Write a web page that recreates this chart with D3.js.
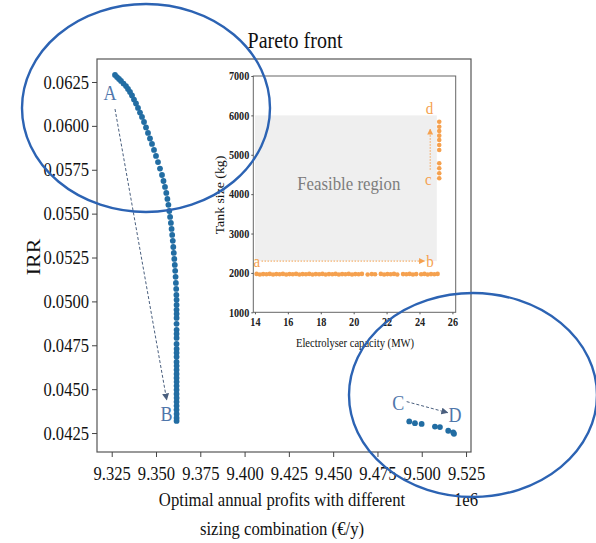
<!DOCTYPE html>
<html>
<head>
<meta charset="utf-8">
<script src="https://cdn.jsdelivr.net/npm/d3@7"></script>
<style>
  html, body { margin: 0; padding: 0; background: #fff; }
  svg { display: block; }
  svg text { font-family: "Liberation Serif", "Times New Roman", serif !important; }
</style>
</head>
<body>
<svg id="chart" width="596" height="543"></svg>
<script>
// ---- Pareto front: annual profit (1e6 EUR/y) vs IRR ----
const paretoProfit = [
  9.32686, 9.32799, 9.32912, 9.33025, 9.33166, 9.33307, 9.33420, 9.33533, 9.33646, 9.33758,
  9.33871, 9.33984, 9.34097, 9.34210, 9.34323, 9.34436, 9.34548, 9.34661, 9.34774, 9.34887,
  9.35000, 9.35113, 9.35226, 9.35339, 9.35423, 9.35508, 9.35581, 9.35643, 9.35700, 9.35751,
  9.35796, 9.35841, 9.35880, 9.35914, 9.35948, 9.35976, 9.36004, 9.36033, 9.36061, 9.36083,
  9.36106, 9.36123, 9.36140, 9.36151,
  9.36162, 9.36162, 9.36160, 9.36164, 9.36162, 9.36160, 9.36164, 9.36162, 9.36162, 9.36160,
  9.36164, 9.36162, 9.36162, 9.36160, 9.36164, 9.36162, 9.36162, 9.36160, 9.36164, 9.36162,
  9.36162, 9.36160, 9.36164, 9.36162, 9.36162, 9.36160, 9.36164, 9.36162, 9.36162
];
const paretoIRR = [
  0.06290, 0.06278, 0.06267, 0.06256, 0.06241, 0.06227, 0.06210, 0.06193, 0.06173, 0.06150,
  0.06128, 0.06102, 0.06076, 0.06051, 0.06022, 0.05991, 0.05960, 0.05928, 0.05897, 0.05863,
  0.05829, 0.05794, 0.05757, 0.05720, 0.05686, 0.05652, 0.05618, 0.05584, 0.05550, 0.05515,
  0.05481, 0.05447, 0.05413, 0.05379, 0.05345, 0.05310, 0.05276, 0.05242, 0.05208, 0.05174,
  0.05140, 0.05105, 0.05071, 0.05037,
  0.05009, 0.04980, 0.04952, 0.04929, 0.04906, 0.04872, 0.04838, 0.04815, 0.04792, 0.04758,
  0.04729, 0.04707, 0.04684, 0.04655, 0.04633, 0.04610, 0.04587, 0.04564, 0.04542, 0.04519,
  0.04496, 0.04473, 0.04450, 0.04428, 0.04405, 0.04382, 0.04359, 0.04336, 0.04319
];
// high-profit cluster (C -> D)
const clusterProfit = [9.49295, 9.49616, 9.49994, 9.50745, 9.51027, 9.51495, 9.51777, 9.51820];
const clusterIRR    = [0.04316, 0.04306, 0.04302, 0.04287, 0.04284, 0.04263, 0.04253, 0.04246];

const profitTicks = [9.325, 9.350, 9.375, 9.400, 9.425, 9.450, 9.475, 9.500, 9.525];
const irrTicks = [0.0425, 0.0450, 0.0475, 0.0500, 0.0525, 0.0550, 0.0575, 0.0600, 0.0625];

// ---- Inset: electrolyser capacity (MW) vs tank size (kg) ----
const rowCapacity = [
  14.10, 14.30, 14.50, 14.70, 14.90, 15.10, 15.30, 15.50, 15.70, 15.90,
  16.10, 16.30, 16.50, 16.70, 16.90, 17.10, 17.30, 17.50, 17.70, 17.90,
  18.10, 18.30, 18.50, 18.70, 18.90, 19.10, 19.30, 19.50, 19.70, 19.90,
  20.10, 20.30, 20.50, 20.85, 21.10, 21.30, 21.65, 21.85, 22.05, 22.25,
  22.45, 22.65, 23.00, 23.20, 23.40, 23.60, 23.80, 24.10, 24.30, 24.50,
  24.70, 24.90, 25.10
];
const rowTank = [
  1975, 1960, 1970, 1965, 1975, 1960, 1970, 1965, 1975, 1960,
  1970, 1965, 1975, 1960, 1970, 1965, 1975, 1960, 1970, 1965,
  1975, 1960, 1970, 1965, 1975, 1960, 1970, 1965, 1975, 1960,
  1970, 1965, 1975, 1960, 1970, 1965, 1975, 1960, 1970, 1965,
  1975, 1960, 1970, 1965, 1975, 1960, 1970, 1965, 1975, 1960,
  1970, 1965, 1975
];
const colCapacity = [25.2, 25.2, 25.2, 25.2, 25.2, 25.2, 25.2, 25.2, 25.2, 25.2, 25.2];
const colTank = [5840, 5713, 5604, 5485, 5376, 5249, 5122, 4784, 4657, 4530, 4403];

const capacityTicks = [14, 16, 18, 20, 22, 24, 26];
const tankTicks = [1000, 2000, 3000, 4000, 5000, 6000, 7000];

// Feasible region bounds
const feasibleCapacity = [14, 25.05];
const feasibleTank = [2300, 6000];

// ---- Styling ----
const BLUE = "#226da3";
const ORANGE = "#f5a14f";
const LETTER_BLUE = "#4f76ab";
const ARROW_BLUE = "#4a5f7e";
const RING = "#2c63b3";
const SY = 1.15; // vertical text stretch

const svg = d3.select("#chart");

const defs = svg.append("defs");
function marker(id, color, size) {
  defs.append("marker")
    .attr("id", id).attr("viewBox", "0 0 10 10")
    .attr("refX", 9).attr("refY", 5)
    .attr("markerWidth", size).attr("markerHeight", size)
    .attr("orient", "auto-start-reverse")
    .append("path").attr("d", "M0,0 L10,5 L0,10 z").attr("fill", color);
}
marker("arrBlue", ARROW_BLUE, 7);
marker("arrOrange", ORANGE, 6);

function label(g, x, y, str, o = {}) {
  const rot = o.rotate ? ` rotate(${o.rotate})` : "";
  return g.append("text")
    .attr("transform", `translate(${x},${y}) scale(1,${SY})${rot}`)
    .attr("text-anchor", o.anchor || "middle")
    .style("font-size", (o.size || 16) + "px")
    .style("font-weight", o.weight || "normal")
    .attr("fill", o.color || "#111")
    .text(str);
}

// ---- Main axes ----
const M = { left: 97, right: 471, top: 59, bottom: 452 };
const x = d3.scaleLinear().domain([9.3167, 9.5278]).range([M.left, M.right]);
const y = d3.scaleLinear().domain([0.04142, 0.06381]).range([M.bottom, M.top]);

const main = svg.append("g");

main.append("rect")
  .attr("x", M.left).attr("y", M.top)
  .attr("width", M.right - M.left).attr("height", M.bottom - M.top)
  .attr("fill", "none").attr("stroke", "#555").attr("stroke-width", 1.2);

const xAxis = main.append("g")
  .attr("transform", `translate(0,${M.bottom})`)
  .call(d3.axisBottom(x).tickValues(profitTicks).tickFormat(d3.format(".3f")).tickSize(5).tickPadding(4));
const yAxis = main.append("g")
  .attr("transform", `translate(${M.left},0)`)
  .call(d3.axisLeft(y).tickValues(irrTicks).tickFormat(d3.format(".4f")).tickSize(5).tickPadding(3));

[xAxis, yAxis].forEach(a => {
  a.select(".domain").remove();
  a.selectAll(".tick line").attr("stroke", "#444");
  a.selectAll(".tick text")
    .style("font-size", "16.6px").attr("fill", "#111");
});
xAxis.selectAll(".tick text").attr("y", 12.5).attr("transform", `scale(1,${SY})`);
yAxis.selectAll(".tick text").attr("transform", `scale(1,${SY})`);

// dashed A -> B arrow
main.append("line")
  .attr("x1", x(9.32686)).attr("y1", y(0.06096))
  .attr("x2", x(9.35604)).attr("y2", y(0.04439))
  .attr("stroke", ARROW_BLUE).attr("stroke-width", 1)
  .attr("stroke-dasharray", "3,2").attr("marker-end", "url(#arrBlue)");
// dashed C -> D arrow
main.append("line")
  .attr("x1", x(9.49149)).attr("y1", y(0.04429))
  .attr("x2", x(9.51463)).attr("y2", y(0.04366))
  .attr("stroke", ARROW_BLUE).attr("stroke-width", 1)
  .attr("stroke-dasharray", "3,2").attr("marker-end", "url(#arrBlue)");

// Pareto points
main.append("g").selectAll("circle")
  .data(d3.zip(paretoProfit, paretoIRR).concat(d3.zip(clusterProfit, clusterIRR)))
  .join("circle")
  .attr("cx", d => x(d[0])).attr("cy", d => y(d[1]))
  .attr("r", 2.9).attr("fill", BLUE);

// point letters
label(main, x(9.3241), y(0.06147), "A", { size: 18, color: LETTER_BLUE });
label(main, x(9.3560), y(0.04320), "B", { size: 18, color: LETTER_BLUE });
label(main, x(9.48674), y(0.04383), "C", { size: 18, color: LETTER_BLUE });
label(main, x(9.51873), y(0.04315), "D", { size: 18, color: LETTER_BLUE });

// titles and axis labels
label(svg, 295, 48, "Pareto front", { size: 20 });
label(svg, 40, 257, "IRR", { size: 19, rotate: -90 });
label(svg, 282, 506, "Optimal annual profits with different", { size: 16.7 });
label(svg, 282, 535, "sizing combination (\u20AC/y)", { size: 16.7 });
label(svg, 466, 506, "1e6", { size: 16.7 });

// ---- Inset axes ----
const I = { left: 253.3, right: 455.7, top: 76, bottom: 312.3 };
const xi = d3.scaleLinear().domain([13.9, 26.2]).range([I.left, I.right]);
const yi = d3.scaleLinear().domain([1000, 7000]).range([I.bottom, I.top]);

const inset = svg.append("g");

inset.append("rect")
  .attr("x", xi(feasibleCapacity[0])).attr("y", yi(feasibleTank[1]))
  .attr("width", xi(feasibleCapacity[1]) - xi(feasibleCapacity[0]))
  .attr("height", yi(feasibleTank[0]) - yi(feasibleTank[1]))
  .attr("fill", "#efefef");

inset.append("rect")
  .attr("x", I.left).attr("y", I.top)
  .attr("width", I.right - I.left).attr("height", I.bottom - I.top)
  .attr("fill", "none").attr("stroke", "#666").attr("stroke-width", 1);

const xiAxis = inset.append("g")
  .attr("transform", `translate(0,${I.bottom})`)
  .call(d3.axisBottom(xi).tickValues(capacityTicks).tickFormat(d3.format("d")).tickSize(2).tickPadding(3));
const yiAxis = inset.append("g")
  .attr("transform", `translate(${I.left},0)`)
  .call(d3.axisLeft(yi).tickValues(tankTicks).tickFormat(d3.format("d")).tickSize(2).tickPadding(2));
[xiAxis, yiAxis].forEach(a => {
  a.select(".domain").remove();
  a.selectAll(".tick line").attr("stroke", "#555");
  a.selectAll(".tick text")
    .style("font-size", "10.2px").style("font-weight", "bold").attr("fill", "#222")
    .attr("transform", `scale(1,${SY})`);
});

label(inset, xi(19.7), yi(4100), "Feasible region", { size: 16.8, color: "#7d7d7d" });

label(inset, 355, 347, "Electrolyser capacity (MW)", { size: 10.6 });
label(inset, 224, 195, "Tank size (kg)", { size: 12, rotate: -90 });

// a -> b and c -> d guides
inset.append("line")
  .attr("x1", xi(14.4)).attr("y1", yi(2300))
  .attr("x2", xi(24.3)).attr("y2", yi(2300))
  .attr("stroke", ORANGE).attr("stroke-width", 1)
  .attr("stroke-dasharray", "1.5,1.5").attr("marker-end", "url(#arrOrange)");
inset.append("line")
  .attr("x1", xi(24.65)).attr("y1", yi(4620))
  .attr("x2", xi(24.65)).attr("y2", yi(5650))
  .attr("stroke", ORANGE).attr("stroke-width", 1)
  .attr("stroke-dasharray", "1.5,1.5").attr("marker-end", "url(#arrOrange)");

// sizing combinations
inset.append("g").selectAll("circle")
  .data(d3.zip(rowCapacity, rowTank).concat(d3.zip(colCapacity, colTank)))
  .join("circle")
  .attr("cx", d => xi(d[0])).attr("cy", d => yi(d[1]))
  .attr("r", 2.3).attr("fill", ORANGE);

label(inset, xi(14.12), yi(2150), "a", { size: 15, color: ORANGE });
label(inset, xi(24.64), yi(2150), "b", { size: 15, color: ORANGE });
label(inset, xi(24.54), yi(4232), "c", { size: 15, color: ORANGE });
label(inset, xi(24.60), yi(6035), "d", { size: 15, color: ORANGE });

// highlight rings
const rings = [
  { cx: 146, cy: 108, rx: 124, ry: 104 },
  { cx: 473, cy: 395, rx: 124, ry: 102 }
];
svg.append("g").selectAll("ellipse").data(rings).join("ellipse")
  .attr("cx", d => d.cx).attr("cy", d => d.cy)
  .attr("rx", d => d.rx).attr("ry", d => d.ry)
  .attr("fill", "none").attr("stroke", RING).attr("stroke-width", 2.4);
</script>
</body>
</html>
